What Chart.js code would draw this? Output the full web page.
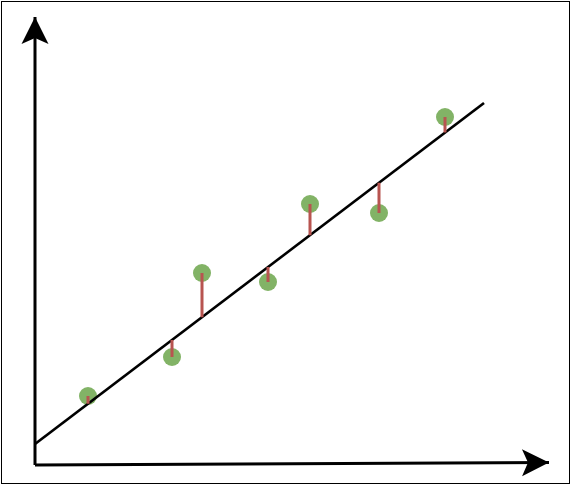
<!DOCTYPE html>
<html><head><meta charset="utf-8">
<script src="https://cdn.jsdelivr.net/npm/chart.js@4.4.0/dist/chart.umd.min.js"></script>
<style>html,body{margin:0;padding:0;background:#fff;} #wrap{width:570px;height:486px;position:relative;}</style>
</head><body><div id="wrap"><canvas id="c" width="570" height="486"></canvas></div>
<script>
const pointX = [1.06, 2.74, 3.34, 4.66, 5.50, 6.88, 8.20];
const pointY = [1.38, 2.16, 3.84, 3.66, 5.22, 5.04, 6.96];
const fitLineX = [0, 8.98];
const fitLineY = [0.42, 7.24];
const xAxisLineX = [0, 10.28];
const xAxisLineY = [0.0, 0.05];
const yAxisLineX = [0, 0];
const yAxisLineY = [0, 8.96];

const GREEN = '#82b366', RED = '#b85450';
const slope = (fitLineY[1]-fitLineY[0])/(fitLineX[1]-fitLineX[0]);
const lineAt = x => fitLineY[0] + (x - fitLineX[0]) * slope;

const pts = pointX.map((x,i)=>({x, y: pointY[i]}));
const resid = [];
pointX.forEach((x,i)=>{ resid.push({x, y: pointY[i]}); resid.push({x, y: lineAt(x)}); resid.push({x, y: null}); });
const pair = (xs, ys) => xs.map((x,i)=>({x, y: ys[i]}));

const chrome = {
  id: 'chrome',
  beforeDraw(chart){
    const c = chart.ctx; c.save();
    c.fillStyle = '#fff'; c.fillRect(0,0,chart.width,chart.height);
    c.strokeStyle = '#000'; c.lineWidth = 1;
    c.strokeRect(1.5, 1.5, 568, 482);
    c.restore();
  },
  afterDatasetsDraw(chart){
    const c = chart.ctx, sx = chart.scales.x, sy = chart.scales.y;
    const arrow = (xs, ys) => {
      const x0 = sx.getPixelForValue(xs[0]), y0 = sy.getPixelForValue(ys[0]);
      const x1 = sx.getPixelForValue(xs[1]), y1 = sy.getPixelForValue(ys[1]);
      const a = Math.atan2(y1-y0, x1-x0);
      c.save(); c.translate(x1, y1); c.rotate(a);
      c.beginPath(); c.moveTo(0,0); c.lineTo(-27,-13.5); c.lineTo(-21,0); c.lineTo(-27,13.5); c.closePath();
      c.fillStyle = '#000'; c.fill(); c.restore();
    };
    arrow(xAxisLineX, xAxisLineY);
    arrow(yAxisLineX, yAxisLineY);
  }
};

new Chart(document.getElementById('c'), {
  type: 'scatter',
  data: { datasets: [
    { data: pair(xAxisLineX, xAxisLineY), showLine: true, borderColor: '#000', borderWidth: 3, pointRadius: 0, order: 6, borderCapStyle: 'butt' },
    { data: pair(yAxisLineX, yAxisLineY), showLine: true, borderColor: '#000', borderWidth: 3, pointRadius: 0, order: 5, borderCapStyle: 'butt' },
    { data: pts, backgroundColor: GREEN, borderColor: GREEN, borderWidth: 0, pointRadius: 9, order: 4 },
    { data: pair(fitLineX, fitLineY), showLine: true, borderColor: '#000', borderWidth: 2.7, pointRadius: 0, order: 2 },
    { data: resid, showLine: true, spanGaps: false, borderColor: RED, borderWidth: 3, pointRadius: 0, order: 1 }
  ]},
  options: {
    responsive: false, animation: false, devicePixelRatio: 1,
    layout: { padding: 0, autoPadding: false },
    plugins: { legend: { display: false }, tooltip: { enabled: false } },
    scales: {
      x: { type: 'linear', min: -0.7, max: 10.7, display: false },
      y: { type: 'linear', min: -0.42, max: 9.3, display: false }
    }
  },
  plugins: [chrome]
});
</script></body></html>
